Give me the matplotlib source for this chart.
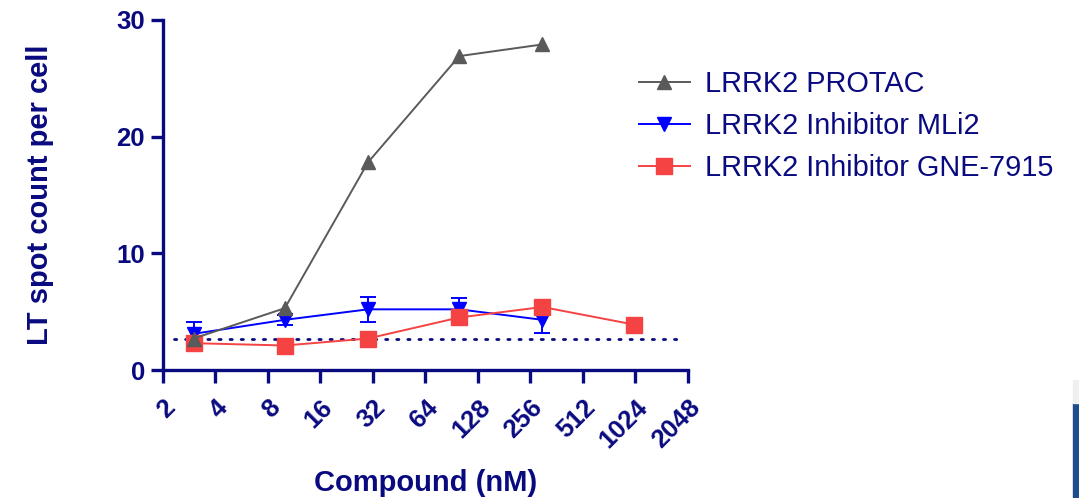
import matplotlib
matplotlib.use("Agg")
import matplotlib.pyplot as plt
from matplotlib.lines import Line2D
from matplotlib.patches import Rectangle

# Dose (nM) and LT spot counts per cell
doses = [3, 10, 30, 100, 300, 1000]
protac = [2.7, 5.3, 17.8, 26.9, 27.9]
mli2 = [3.1, 4.3, 5.2, 5.2, 4.3]
mli2_err = [1.0, 0.4, 1.05, 1.0, 1.1]
gne = [2.3, 2.1, 2.7, 4.5, 5.4, 3.9]
baseline = 2.65
baseline_range = [2.3, 1800]

x_ticks = [2, 4, 8, 16, 32, 64, 128, 256, 512, 1024, 2048]
y_ticks = [0, 10, 20, 30]

navy = "#0a0a80"
gray = "#5a5a5a"
blue = "#0000ff"
red = "#f54242"
plt.rcParams["font.family"] = ["Liberation Sans", "DejaVu Sans"]

fig = plt.figure(figsize=(10.79, 4.98), dpi=100)
ax = fig.add_axes([0.151, 0.257, 0.4866, 0.703])

ax.plot(baseline_range, [baseline, baseline], linestyle=(0, (0.8, 3.2)),
        color=navy, linewidth=2.0, zorder=1, dash_capstyle="round")

ax.errorbar(doses[:len(mli2)], mli2, yerr=mli2_err, color=blue,
            marker="v", markersize=10, linewidth=1.4, capsize=6,
            elinewidth=1.4, capthick=1.4, zorder=3)
ax.plot(doses[:len(gne)], gne, color=red, marker="s", markersize=11,
        linewidth=1.4, zorder=4)
ax.plot(doses[:len(protac)], protac, color=gray, marker="^",
        markersize=10, linewidth=1.4, zorder=5)

ax.set_xscale("log", base=2)
ax.set_xlim(2, 2048)
ax.set_ylim(0, 30)
ax.set_xticks(x_ticks)
ax.set_xticklabels([str(t) for t in x_ticks], rotation=45, ha="right",
                   rotation_mode="anchor")
ax.minorticks_off()
ax.set_yticks(y_ticks)

for side in ("top", "right"):
    ax.spines[side].set_visible(False)
for side in ("left", "bottom"):
    ax.spines[side].set_color(navy)
    ax.spines[side].set_linewidth(2.4)
ax.tick_params(axis="both", colors=navy, width=2.4, length=9,
               labelsize=18.5)
ax.tick_params(axis="x", pad=9)
ax.tick_params(axis="y", pad=4)
for lab in ax.get_xticklabels() + ax.get_yticklabels():
    lab.set_fontweight("bold")
    lab.set_color(navy)

ax.set_xlabel("Compound (nM)", fontsize=21, fontweight="bold", color=navy,
              labelpad=12)
ax.set_ylabel("LT spot count per cell", fontsize=21, fontweight="bold",
              color=navy, labelpad=45)

handles = [
    Line2D([], [], color=gray, marker="^", markersize=10, linewidth=1.4),
    Line2D([], [], color=blue, marker="v", markersize=10, linewidth=1.4),
    Line2D([], [], color=red, marker="s", markersize=11, linewidth=1.4),
]
labels = ["LRRK2 PROTAC", "LRRK2 Inhibitor MLi2", "LRRK2 Inhibitor GNE-7915"]
leg = ax.legend(handles, labels, loc="upper left",
                bbox_to_anchor=(0.885, 0.891), frameon=False, fontsize=20.75,
                handlelength=1.75, handletextpad=0.55, labelspacing=0.5,
                borderaxespad=0)
for t in leg.get_texts():
    t.set_color(navy)

# edge strip at the lower right corner
fig.patches.append(Rectangle((1073 / 1079, 0), 6 / 1079, 95 / 498,
                             transform=fig.transFigure, color="#1f4e8c",
                             zorder=0))
fig.patches.append(Rectangle((1073 / 1079, 95 / 498), 6 / 1079, 23 / 498,
                             transform=fig.transFigure, color="#f0f0f0",
                             zorder=0))

fig.savefig("out.png", dpi=100)
